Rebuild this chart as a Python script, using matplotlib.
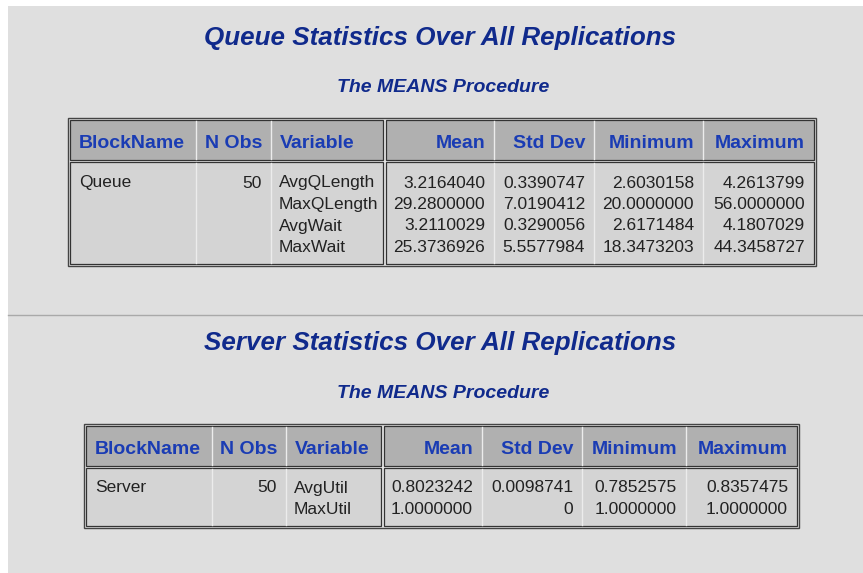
import matplotlib.pyplot as plt
from matplotlib.patches import Rectangle

plt.rcParams["font.family"] = ["Liberation Sans", "DejaVu Sans"]

# ---- data ----
headers = ["BlockName", "N Obs", "Variable", "Mean", "Std Dev", "Minimum", "Maximum"]

queue_block = "Queue"
queue_nobs = 50
queue_vars = ["AvgQLength", "MaxQLength", "AvgWait", "MaxWait"]
queue_mean = [3.2164040, 29.2800000, 3.2110029, 25.3736926]
queue_std = [0.3390747, 7.0190412, 0.3290056, 5.5577984]
queue_min = [2.6030158, 20.0000000, 2.6171484, 18.3473203]
queue_max = [4.2613799, 56.0000000, 4.1807029, 44.3458727]

server_block = "Server"
server_nobs = 50
server_vars = ["AvgUtil", "MaxUtil"]
server_mean = [0.8023242, 1.0000000]
server_std = [0.0098741, 0.0]
server_min = [0.7852575, 1.0000000]
server_max = [0.8357475, 1.0000000]

title_queue = "Queue Statistics Over All Replications"
title_server = "Server Statistics Over All Replications"
subtitle = "The MEANS Procedure"

# ---- colours ----
BG = "#dfdfdf"
TITLE_C = "#102a8c"
HEAD_C = "#1a3cb4"
TEXT_C = "#222222"
HEAD_FILL = "#b0b0b0"
BODY_FILL = "#d4d4d4"
DARK = "#333333"
LIGHT = "#ececec"


def fmt(v):
    return "0" if v == 0 else f"{v:.7f}"


fig = plt.figure(figsize=(8.63, 5.73), dpi=100)
ax = fig.add_axes([0, 0, 1, 1])
ax.set_xlim(0, 863)
ax.set_ylim(573, 0)
ax.axis("off")

ax.add_patch(Rectangle((8, 6), 855, 567, facecolor=BG, edgecolor="none"))
ax.plot([8, 863], [315, 315], color="#a9a9a9", lw=1.0)


def draw_table(top, edges, split, header_bl, row_bl, block, nobs, variables, cols):
    # edges: column boundaries, split: index of the double border
    x0, x1 = edges[0] - 2, edges[-1] + 2
    head_top, head_bot = top + 2, top + 42
    body_top = head_bot + 2
    body_bot = row_bl[-1] + 12
    ax.add_patch(Rectangle((x0, top), x1 - x0, body_bot + 2 - top,
                           facecolor="#e6e6e6", edgecolor="#444444", lw=1.0))
    groups = [(edges[0], edges[split] - 1.5), (edges[split] + 1.5, edges[-1])]
    for (ga, gb) in groups:
        ax.add_patch(Rectangle((ga, head_top), gb - ga, head_bot - head_top,
                               facecolor=HEAD_FILL, edgecolor=DARK, lw=0.9))
        ax.add_patch(Rectangle((ga, body_top), gb - ga, body_bot - body_top,
                               facecolor=BODY_FILL, edgecolor=DARK, lw=0.9))
    for i, xe in enumerate(edges[1:-1], start=1):
        if i == split:
            continue
        ax.plot([xe, xe], [head_top + 1, head_bot - 1], color=LIGHT, lw=1)
        ax.plot([xe, xe], [body_top + 1, body_bot - 1], color=LIGHT, lw=1)

    # header text
    for j, h in enumerate(headers):
        if j in (0, 2):
            ax.text(edges[j] + 9, header_bl, h, ha="left", va="baseline",
                    fontsize=14, fontweight="bold", color=HEAD_C)
        else:
            ax.text(edges[j + 1] - 9, header_bl, h, ha="right", va="baseline",
                    fontsize=14, fontweight="bold", color=HEAD_C)

    # body text
    ax.text(edges[0] + 9, row_bl[0], block, ha="left", va="baseline",
            fontsize=12.5, color=TEXT_C)
    ax.text(edges[2] - 9, row_bl[0], str(nobs), ha="right", va="baseline",
            fontsize=12.5, color=TEXT_C)
    for r, var in enumerate(variables):
        ax.text(edges[2] + 8, row_bl[r], var, ha="left", va="baseline",
                fontsize=12.5, color=TEXT_C)
        for c, col in enumerate(cols):
            ax.text(edges[3 + c + 1] - 9, row_bl[r], fmt(col[r]), ha="right",
                    va="baseline", fontsize=12.5, color=TEXT_C)


# queue table
ax.text(440, 45, title_queue, ha="center", va="baseline", fontsize=18.7,
        fontweight="bold", fontstyle="italic", color=TITLE_C)
ax.text(443, 92, subtitle, ha="center", va="baseline", fontsize=14,
        fontweight="bold", fontstyle="italic", color=TITLE_C)
draw_table(118, [70, 196, 271, 384.5, 494, 594, 703, 814], 3, 148,
           [187.5, 209, 230.5, 252], queue_block, queue_nobs, queue_vars,
           [queue_mean, queue_std, queue_min, queue_max])

# server table
ax.text(440, 350, title_server, ha="center", va="baseline", fontsize=18.7,
        fontweight="bold", fontstyle="italic", color=TITLE_C)
ax.text(443, 398, subtitle, ha="center", va="baseline", fontsize=14,
        fontweight="bold", fontstyle="italic", color=TITLE_C)
draw_table(424, [86, 212, 286, 382.5, 482, 582, 686, 797], 3, 454,
           [492.5, 514], server_block, server_nobs, server_vars,
           [server_mean, server_std, server_min, server_max])

fig.savefig("out.png", dpi=100, facecolor="white")
